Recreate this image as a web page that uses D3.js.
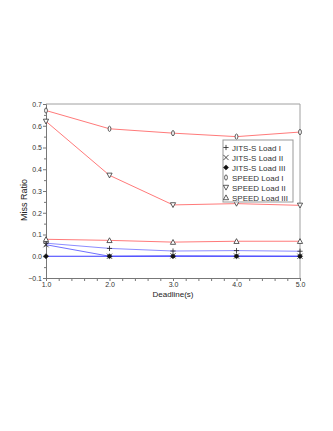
<!DOCTYPE html>
<html>
<head>
<meta charset="utf-8">
<style>
    body { margin: 0; background: #fff; }
    text { font-family: "Liberation Sans", Arial, sans-serif; }
</style>
</head>
<body>
<script src="https://d3js.org/d3.v7.min.js"></script>
<script>
    const width = 333;
    const height = 431;

    // data
    const deadlines = [1.0, 2.0, 3.0, 4.0, 5.0];
    const jitsLoad1 = [0.060, 0.036, 0.024, 0.026, 0.023];
    const jitsLoad2 = [0.053, 0.000, 0.002, 0.001, 0.000];
    const jitsLoad3 = [0.000, 0.000, 0.000, 0.000, 0.000];
    const speedLoad1 = [0.670, 0.586, 0.566, 0.550, 0.571];
    const speedLoad2 = [0.620, 0.372, 0.236, 0.242, 0.234];
    const speedLoad3 = [0.078, 0.073, 0.065, 0.069, 0.069];
    const xTicks = [1.0, 2.0, 3.0, 4.0, 5.0];
    const yTicks = [-0.1, 0.0, 0.1, 0.2, 0.3, 0.4, 0.5, 0.6, 0.7];

    const series = [
        {name: "JITS-S Load I", values: jitsLoad1, color: "#8c8cff", marker: "plus"},
        {name: "JITS-S Load II", values: jitsLoad2, color: "#7070ff", marker: "cross"},
        {name: "JITS-S Load III", values: jitsLoad3, color: "#3a3aff", marker: "diamond"},
        {name: "SPEED Load I", values: speedLoad1, color: "#ff7a7a", marker: "oval"},
        {name: "SPEED Load II", values: speedLoad2, color: "#ff7a7a", marker: "down"},
        {name: "SPEED Load III", values: speedLoad3, color: "#ff7a7a", marker: "up"}
    ];

    const svg = d3.select("body").append("svg")
        .attr("width", width).attr("height", height);

    const x = d3.scaleLinear().domain([1, 5]).range([46, 300]);
    const y = d3.scaleLinear().domain([-0.1, 0.7]).range([278, 104]);

    // frame (top and right)
    svg.append("path")
        .attr("d", `M${x(1)},${y(0.7)}H${x(5)}V${y(-0.1)}`)
        .attr("fill", "none").attr("stroke", "#a0a0a0").attr("stroke-width", 1);

    // minor ticks
    const xMinor = d3.range(1, 5.001, 0.2).filter(v => Math.abs(v - Math.round(v)) > 0.01);
    svg.append("g").attr("transform", `translate(0,${y(-0.1)})`)
        .call(d3.axisBottom(x).tickValues(xMinor).tickSize(3).tickFormat(""))
        .call(g => g.select(".domain").remove())
        .selectAll("line").attr("stroke", "#777");
    const yMinor = d3.range(-0.05, 0.7, 0.1);
    svg.append("g").attr("transform", `translate(${x(1)},0)`)
        .call(d3.axisLeft(y).tickValues(yMinor).tickSize(2).tickFormat(""))
        .call(g => g.select(".domain").remove())
        .selectAll("line").attr("stroke", "#777");

    // axes
    const xAxis = svg.append("g").attr("transform", `translate(0,${y(-0.1)})`)
        .call(d3.axisBottom(x).tickValues(xTicks).tickSize(3).tickPadding(1).tickFormat(d3.format(".1f")));
    const yAxis = svg.append("g").attr("transform", `translate(${x(1)},0)`)
        .call(d3.axisLeft(y).tickValues(yTicks).tickSize(3).tickPadding(1).tickFormat(d3.format(".1f")));
    [xAxis, yAxis].forEach(g => {
        g.select(".domain").attr("stroke", "#777");
        g.selectAll(".tick line").attr("stroke", "#777");
        g.selectAll("text").attr("font-size", 7).attr("fill", "#333")
            .attr("font-family", "Liberation Sans, Arial, sans-serif");
    });

    // axis titles
    svg.append("text")
        .attr("x", (x(1) + x(5)) / 2).attr("y", 297)
        .attr("text-anchor", "middle").attr("font-size", 8).attr("fill", "#222")
        .text("Deadline(s)");
    svg.append("text")
        .attr("transform", `translate(27,200) rotate(-90)`)
        .attr("text-anchor", "middle").attr("font-size", 9).attr("fill", "#222")
        .text("Miss Ratio");

    function drawMarker(g, type) {
        const s = 2.6;
        if (type === "plus") {
            g.append("path").attr("d", `M${-s},0H${s}M0,${-s}V${s}`)
                .attr("stroke", "#222").attr("stroke-width", 0.8).attr("fill", "none");
        } else if (type === "cross") {
            g.append("path").attr("d", `M${-s},${-s}L${s},${s}M${-s},${s}L${s},${-s}`)
                .attr("stroke", "#222").attr("stroke-width", 0.8).attr("fill", "none");
        } else if (type === "diamond") {
            g.append("path").attr("d", `M0,${-s}L${s},0L0,${s}L${-s},0Z`)
                .attr("fill", "#111").attr("stroke", "#111").attr("stroke-width", 0.5);
        } else if (type === "oval") {
            g.append("ellipse").attr("rx", 1.4).attr("ry", 2.6)
                .attr("fill", "#fff").attr("stroke", "#333").attr("stroke-width", 0.8);
        } else if (type === "down") {
            g.append("path").attr("d", `M${-s},${-s + 0.4}H${s}L0,${s}Z`)
                .attr("fill", "#fff").attr("stroke", "#333").attr("stroke-width", 0.8);
        } else if (type === "up") {
            g.append("path").attr("d", `M${-s},${s - 0.4}H${s}L0,${-s}Z`)
                .attr("fill", "#fff").attr("stroke", "#333").attr("stroke-width", 0.8);
        }
    }

    const line = d3.line().x((d, i) => x(deadlines[i])).y(d => y(d));

    // lines
    series.forEach(s => {
        svg.append("path").datum(s.values)
            .attr("d", line)
            .attr("fill", "none").attr("stroke", s.color).attr("stroke-width", 1);
    });

    // markers
    series.forEach(s => {
        s.values.forEach((v, i) => {
            const g = svg.append("g").attr("transform", `translate(${x(deadlines[i])},${y(v)})`);
            drawMarker(g, s.marker);
        });
    });

    // legend
    const legend = svg.append("g").attr("transform", "translate(223,140)");
    legend.append("rect").attr("width", 70).attr("height", 62)
        .attr("fill", "#fff").attr("stroke", "#999").attr("stroke-width", 1);
    series.forEach((s, i) => {
        const row = legend.append("g").attr("transform", `translate(3,${7.5 + i * 10})`);
        drawMarker(row.append("g"), s.marker);
        row.append("text").attr("x", 6).attr("y", 3)
            .attr("font-size", 8).attr("fill", "#333")
            .text(s.name);
    });
</script>
</body>
</html>
